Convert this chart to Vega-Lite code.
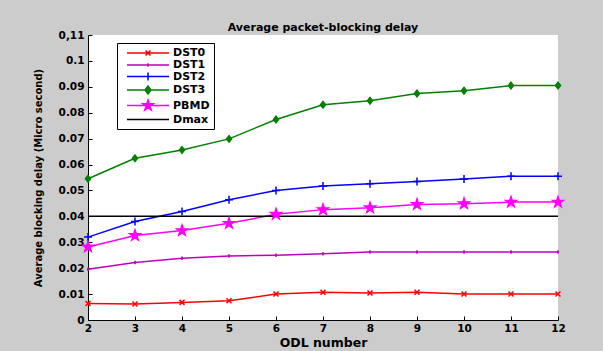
{
  "$schema": "https://vega.github.io/schema/vega-lite/v6.json",
  "autosize": "none",
  "width": 470,
  "height": 285,
  "padding": {"left": 88, "top": 35, "right": 45, "bottom": 31},
  "background": "#cccccc",
  "view": {"fill": "white", "stroke": null},
  "title": {"text": "Average packet-blocking delay", "font": "DejaVu Sans", "fontSize": 11, "fontWeight": "bold", "color": "black", "offset": -3},
  "config": {
    "axis": {"domainColor": "black", "domainWidth": 1, "tickColor": "black", "tickSize": -4, "tickWidth": 1, "labelFont": "DejaVu Sans", "labelFontWeight": "bold", "labelFontSize": 10.5, "labelColor": "black", "titleFont": "DejaVu Sans", "titleFontWeight": "bold", "titleColor": "black", "grid": false, "labelFlush": false}
  },
  "data": {"values": [
    {"x": 2, "v": 0.0064, "s": "DST0"}, {"x": 3, "v": 0.0062, "s": "DST0"}, {"x": 4, "v": 0.0068, "s": "DST0"}, {"x": 5, "v": 0.0074, "s": "DST0"}, {"x": 6, "v": 0.0100, "s": "DST0"}, {"x": 7, "v": 0.0107, "s": "DST0"}, {"x": 8, "v": 0.0104, "s": "DST0"}, {"x": 9, "v": 0.0107, "s": "DST0"}, {"x": 10, "v": 0.0100, "s": "DST0"}, {"x": 11, "v": 0.0100, "s": "DST0"}, {"x": 12, "v": 0.0100, "s": "DST0"},
    {"x": 2, "v": 0.0196, "s": "DST1"}, {"x": 3, "v": 0.0222, "s": "DST1"}, {"x": 4, "v": 0.0238, "s": "DST1"}, {"x": 5, "v": 0.0247, "s": "DST1"}, {"x": 6, "v": 0.0250, "s": "DST1"}, {"x": 7, "v": 0.0256, "s": "DST1"}, {"x": 8, "v": 0.0262, "s": "DST1"}, {"x": 9, "v": 0.0262, "s": "DST1"}, {"x": 10, "v": 0.0262, "s": "DST1"}, {"x": 11, "v": 0.0262, "s": "DST1"}, {"x": 12, "v": 0.0262, "s": "DST1"},
    {"x": 2, "v": 0.0320, "s": "DST2"}, {"x": 3, "v": 0.0380, "s": "DST2"}, {"x": 4, "v": 0.0419, "s": "DST2"}, {"x": 5, "v": 0.0464, "s": "DST2"}, {"x": 6, "v": 0.0500, "s": "DST2"}, {"x": 7, "v": 0.0517, "s": "DST2"}, {"x": 8, "v": 0.0526, "s": "DST2"}, {"x": 9, "v": 0.0535, "s": "DST2"}, {"x": 10, "v": 0.0544, "s": "DST2"}, {"x": 11, "v": 0.0555, "s": "DST2"}, {"x": 12, "v": 0.0555, "s": "DST2"},
    {"x": 2, "v": 0.0545, "s": "DST3"}, {"x": 3, "v": 0.0624, "s": "DST3"}, {"x": 4, "v": 0.0656, "s": "DST3"}, {"x": 5, "v": 0.0699, "s": "DST3"}, {"x": 6, "v": 0.0774, "s": "DST3"}, {"x": 7, "v": 0.0831, "s": "DST3"}, {"x": 8, "v": 0.0846, "s": "DST3"}, {"x": 9, "v": 0.0874, "s": "DST3"}, {"x": 10, "v": 0.0885, "s": "DST3"}, {"x": 11, "v": 0.0905, "s": "DST3"}, {"x": 12, "v": 0.0905, "s": "DST3"},
    {"x": 2, "v": 0.0282, "s": "PBMD"}, {"x": 3, "v": 0.0326, "s": "PBMD"}, {"x": 4, "v": 0.0345, "s": "PBMD"}, {"x": 5, "v": 0.0373, "s": "PBMD"}, {"x": 6, "v": 0.0408, "s": "PBMD"}, {"x": 7, "v": 0.0426, "s": "PBMD"}, {"x": 8, "v": 0.0433, "s": "PBMD"}, {"x": 9, "v": 0.0446, "s": "PBMD"}, {"x": 10, "v": 0.0449, "s": "PBMD"}, {"x": 11, "v": 0.0455, "s": "PBMD"}, {"x": 12, "v": 0.0455, "s": "PBMD"},
    {"x": 2, "v": 0.04, "s": "Dmax"}, {"x": 12, "v": 0.04, "s": "Dmax"}
  ]},
  "encoding": {
    "x": {"field": "x", "type": "quantitative", "scale": {"domain": [2, 12], "nice": false, "zero": false},
      "axis": {"values": [2,3,4,5,6,7,8,9,10,11,12], "labelPadding": 7, "title": "ODL number", "titleFontSize": 12.5, "titlePadding": 3, "labelAngle": 0}},
    "y": {"field": "v", "type": "quantitative", "scale": {"domain": [0, 0.11], "nice": false},
      "axis": {"values": [0,0.01,0.02,0.03,0.04,0.05,0.06,0.07,0.08,0.09,0.1,0.11], "labelPadding": 8, "labelExpr": "datum.value > 0.105 ? '0,11' : format(datum.value, '.2~f')", "title": "Average blocking delay (Micro second)", "titleFontSize": 10, "titlePadding": 15}}
  },
  "layer": [
    {
      "mark": {"type": "line", "strokeWidth": 1.5},
      "encoding": {
        "color": {"field": "s", "type": "nominal",
          "scale": {"domain": ["DST0", "DST1", "DST2", "DST3", "PBMD", "Dmax"], "range": ["#ff0000", "#bf00bf", "#0000ff", "#008000", "#ff00ff", "#000000"]},
          "legend": {"title": null, "orient": "none", "legendX": 29, "legendY": 8, "padding": 4, "strokeColor": "black", "fillColor": "white", "cornerRadius": 0,
            "labelFont": "DejaVu Sans", "labelFontWeight": "bold", "labelFontSize": 11, "labelColor": "black",
            "symbolSize": 100, "symbolOffset": 21, "labelOffset": 19, "rowPadding": -0.5, "symbolStrokeWidth": 1.5,
            "encode": {"symbols": {"update": {
              "shape": {"signal": "datum.value === 'DST0' ? 'M-4.2,0H4.2M-0.5,-0.5L0.5,0.5M-0.5,0.5L0.5,-0.5' : datum.value === 'DST1' ? 'M-4.2,0H4.2M0,-0.35V0.35' : datum.value === 'DST2' ? 'M-4.2,0H4.2M0,-0.8V0.8' : datum.value === 'DST3' ? 'M-4.2,0H-0.6L0,-0.8L0.6,0L0,0.8L-0.6,0L0.6,0H4.2' : datum.value === 'PBMD' ? 'M-4.2,0H4.2M0,-1.1L0.247,-0.34L1.046,-0.34L0.4,0.13L0.646,0.89L0,0.42L-0.646,0.89L-0.4,0.13L-1.046,-0.34L-0.247,-0.34Z' : 'M-4.2,0H4.2'"},
              "size": {"value": 100},
              "fill": {"signal": "datum.value === 'DST3' || datum.value === 'PBMD' ? scale('color', datum.value) : 'transparent'"},
              "stroke": {"signal": "scale('color', datum.value)"},
              "strokeWidth": {"value": 1.5},
              "opacity": {"value": 1}
            }}}
          }}
      }
    },
    {
      "transform": [{"filter": "datum.s === 'DST0' || datum.s === 'DST1' || datum.s === 'DST2'"}],
      "mark": {"type": "point", "filled": false, "strokeWidth": 1.5, "opacity": 1, "size": 100},
      "encoding": {
        "color": {"field": "s", "type": "nominal"},
        "shape": {"field": "s", "type": "nominal", "legend": null,
          "scale": {"domain": ["DST0", "DST1", "DST2", "DST3", "PBMD"], "range": ["M-0.5,-0.5L0.5,0.5M-0.5,0.5L0.5,-0.5", "M0,-0.35V0.35M-0.2,0H0.2", "M-0.8,0H0.8M0,-0.8V0.8", "M0,-0.7L0.55,0L0,0.7L-0.55,0Z", "M0,-1.2L0.27,-0.371L1.141,-0.371L0.436,0.142L0.705,0.971L0,0.459L-0.705,0.971L-0.436,0.142L-1.141,-0.371L-0.27,-0.371Z"]}}
      }
    },
    {
      "transform": [{"filter": "datum.s === 'DST3' || datum.s === 'PBMD'"}],
      "mark": {"type": "point", "filled": true, "strokeWidth": 1.2, "opacity": 1, "fillOpacity": 1, "size": 100},
      "encoding": {
        "color": {"field": "s", "type": "nominal"},
        "stroke": {"field": "s", "type": "nominal", "legend": null, "scale": {"domain": ["DST3", "PBMD"], "range": ["#008000", "#ff00ff"]}},
        "shape": {"field": "s", "type": "nominal", "legend": null}
      }
    }
  ]
}
